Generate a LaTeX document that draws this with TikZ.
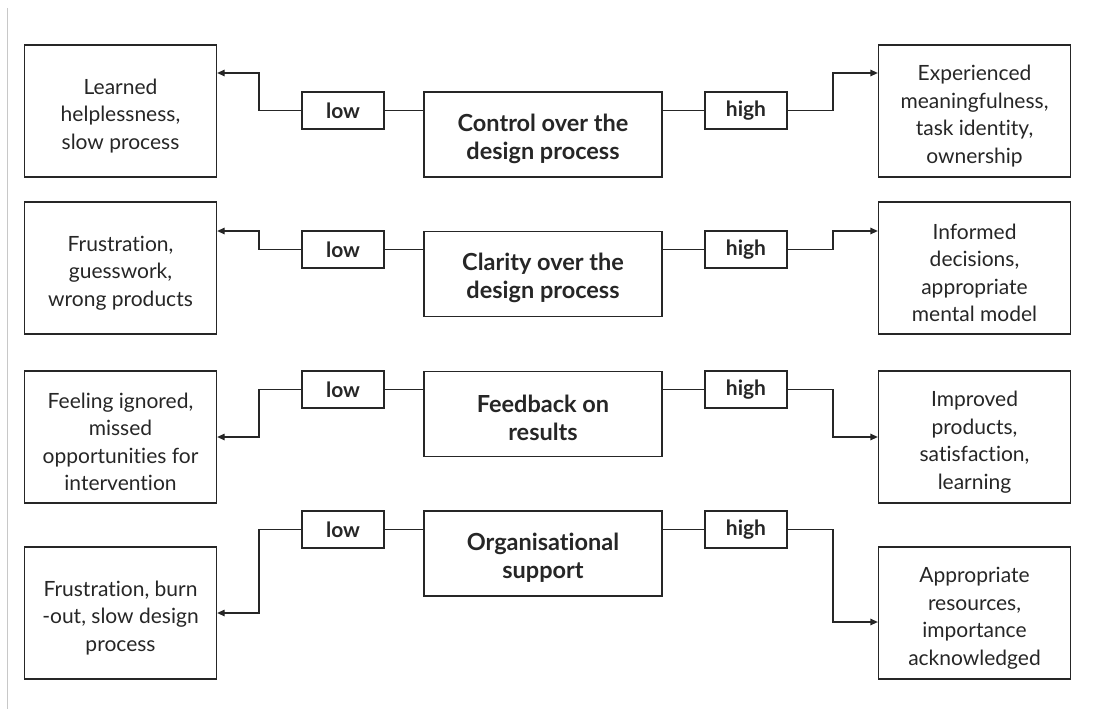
\documentclass[tikz,border=0pt]{standalone}
\usepackage{fontspec}
\setmainfont{Lato}[Ligatures={NoCommon,NoRare}]
\usetikzlibrary{arrows.meta}
\definecolor{ink}{HTML}{262626}
\definecolor{rule}{HTML}{C8C8C8}
% invisible strut that lowers a text block inside its box
\newcommand{\lowerby}[1]{\rule{0pt}{#1}}
\begin{document}
\begin{tikzpicture}[x=1pt,y=-1pt,
  box/.style={draw=ink, line width=1.3pt, text=ink, align=center, inner sep=0pt},
  sidebox/.style={box, minimum width=192pt, minimum height=132pt,
    font=\fontsize{21}{27.5}\selectfont},
  levelbox/.style={box, minimum width=82pt, minimum height=37pt,
    font=\fontsize{21}{27.5}\selectfont\bfseries},
  factorbox/.style={box, minimum width=238pt, minimum height=85pt,
    font=\fontsize{23.5}{28}\selectfont\bfseries},
  conn/.style={draw=ink, line width=1.3pt},
  arr/.style={conn, -{Triangle[length=7.5pt,width=6.5pt]}}
]
\useasboundingbox (0,0) rectangle (1118,709);
\draw[rule, line width=0.9pt] (7,8) -- (7,709);

% bend columns of the outcome arrows
\coordinate (bl) at (259,0);
\coordinate (br) at (833,0);

% row 1
\node[sidebox] (l1) at (120.5,111) {\lowerby{25.5pt}Learned\\helplessness,\\slow process};
\node[levelbox] (lo1) at (343,110.5) {low};
\node[factorbox] (c1) at (543,134.5) {\lowerby{26pt}Control over the\\design process};
\node[levelbox] (hi1) at (746,110.5) {high};
\node[sidebox] (r1) at (974.5,111) {\lowerby{25.5pt}Experienced\\meaningfulness,\\task identity,\\ownership};

% row 2
\node[sidebox] (l2) at (120.5,268) {\lowerby{25.5pt}Frustration,\\guesswork,\\wrong products};
\node[levelbox] (lo2) at (343,249.5) {low};
\node[factorbox] (c2) at (543,274) {\lowerby{26pt}Clarity over the\\design process};
\node[levelbox] (hi2) at (746,249.5) {high};
\node[sidebox] (r2) at (974.5,268) {\lowerby{25.5pt}Informed\\decisions,\\appropriate\\mental model};

% row 3
\node[sidebox] (l3) at (120.5,437) {\lowerby{25.5pt}Feeling ignored,\\missed\\opportunities for\\intervention};
\node[levelbox] (lo3) at (343,389.5) {low};
\node[factorbox] (c3) at (543,414) {\lowerby{26pt}Feedback on\\results};
\node[levelbox] (hi3) at (746,389.5) {high};
\node[sidebox] (r3) at (974.5,437) {\lowerby{25.5pt}Improved\\products,\\satisfaction,\\learning};

% row 4
\node[sidebox] (l4) at (120.5,613) {\lowerby{25.5pt}Frustration, burn\\-out, slow design\\process};
\node[levelbox] (lo4) at (343,529.5) {low};
\node[factorbox] (c4) at (543,553.5) {\lowerby{26pt}Organisational\\support};
\node[levelbox] (hi4) at (746,529.5) {high};
\node[sidebox] (r4) at (974.5,613) {\lowerby{25.5pt}Appropriate\\resources,\\importance\\acknowledged};

% connectors
\foreach \i/\dl/\dr in {1/38pt/38pt, 2/37pt/37pt, 3/0pt/0pt, 4/0pt/-9pt}{
  \draw[conn] (lo\i.east) -- (c\i.west |- lo\i.east);
  \draw[conn] (c\i.east |- hi\i.west) -- (hi\i.west);
  \draw[arr] (lo\i.west) -- (bl |- lo\i.west) |- ([yshift=\dl]l\i.east);
  \draw[arr] (hi\i.east) -- (br |- hi\i.east) |- ([yshift=\dr]r\i.west);
}
\end{tikzpicture}
\end{document}
